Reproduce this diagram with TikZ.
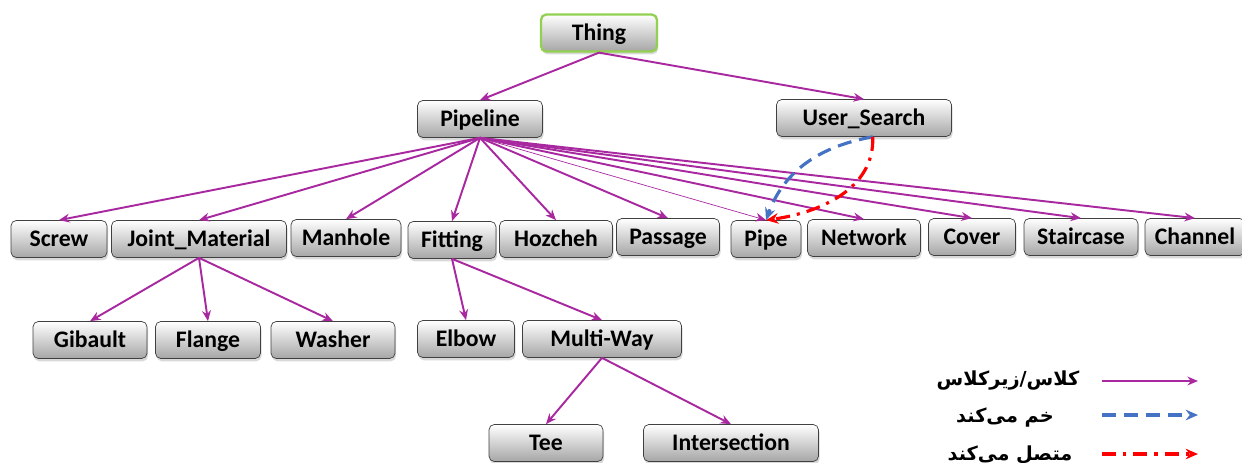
\documentclass[tikz,border=0pt]{standalone}
\usepackage{fontspec}
\setmainfont{Carlito}
\newfontfamily\farsi[Script=Arabic]{DejaVu Sans}
\TeXXeTstate=1
\usetikzlibrary{arrows.meta,shadows}
\definecolor{linkpurple}{RGB}{168,40,160}
\definecolor{bendblue}{RGB}{68,114,196}
\definecolor{jointred}{RGB}{255,0,0}
\definecolor{thinggreen}{RGB}{146,208,80}
\def\plink{\draw[link]}
\tikzset{
  box/.style={draw=black!75, rounded corners=3pt, top color=white, bottom color=black!35,
    minimum height=0.74cm, inner sep=1pt, text height=0.9em, text depth=0.1em,
    font=\bfseries\fontsize{13.5}{15}\selectfont,
    drop shadow={shadow xshift=0.6pt, shadow yshift=-1.6pt, opacity=0.3}},
  link/.style={linkpurple, line width=1.1pt, -{Stealth[length=6pt,width=5pt]}},
  bendlink/.style={bendblue, line width=1.8pt, dash pattern=on 8pt off 4.5pt, -{Stealth[length=7pt,width=6pt]}},
  joinlink/.style={jointred, line width=1.8pt, dash pattern=on 8pt off 4pt on 1.8pt off 4pt, -{Stealth[length=7pt,width=6pt]}},
  legtext/.style={font=\farsi\bfseries\fontsize{11}{13}\selectfont, inner sep=0pt}
}
\begin{document}
\begin{tikzpicture}[x=0.02cm, y=-0.02cm]
    \useasboundingbox (0,0) rectangle (1242,463);

    \node[box, minimum width=2.32cm, draw=thinggreen, line width=1.3pt] (thing) at (599,33) {Thing};
    \node[box, minimum width=2.5cm] (pipeline) at (480,119) {Pipeline};
    \node[box, minimum width=3.5cm] (usearch) at (864,118) {User\_Search};

    \node[box, minimum width=1.92cm] (screw)     at (59,239)   {Screw};
    \node[box, minimum width=3.5cm]  (joint)     at (199,239)  {Joint\_Material};
    \node[box, minimum width=2.2cm]  (manhole)   at (346,238)  {Manhole};
    \node[box, minimum width=1.76cm] (fitting)   at (452,240)  {Fitting};
    \node[box, minimum width=2.26cm] (hozcheh)   at (556,239)  {Hozcheh};
    \node[box, minimum width=2.06cm] (passage)   at (668,237)  {Passage};
    \node[box, minimum width=1.4cm]  (pipe)      at (766,239)  {Pipe};
    \node[box, minimum width=2.26cm] (network)   at (864,238)  {Network};
    \node[box, minimum width=1.74cm] (cover)     at (972,237)  {Cover};
    \node[box, minimum width=2.28cm] (staircase) at (1081,237) {Staircase};
    \node[box, minimum width=2.0cm]  (channel)   at (1195,237) {Channel};

    \node[box, minimum width=2.28cm] (gibault) at (90,340)  {Gibault};
    \node[box, minimum width=2.1cm]  (flange)  at (208,340) {Flange};
    \node[box, minimum width=2.48cm] (washer)  at (333,340) {Washer};
    \node[box, minimum width=1.94cm] (elbow)   at (466,339) {Elbow};
    \node[box, minimum width=3.18cm] (multi)   at (602,339) {Multi-Way};

    \node[box, minimum width=2.28cm] (tee)   at (546,443) {Tee};
    \node[box, minimum width=3.5cm]  (inter) at (731,443) {Intersection};

    \plink (thing.south) -- (pipeline.north);
    \plink (thing.south) -- (usearch.north);
    \foreach \n in {screw,joint,manhole,fitting,hozcheh,passage,network,cover,staircase,channel}
        \plink (pipeline.south) -- (\n.north);
    \draw[link, line width=0.4pt] (pipeline.south) -- (pipe.north);
    \foreach \n in {gibault,flange,washer}
        \plink (joint.south) -- (\n.north);
    \plink (fitting.south) -- (elbow.north);
    \plink (fitting.south) -- (multi.north);
    \plink (multi.south) -- (tee.north);
    \plink (multi.south) -- (inter.north);

    \draw[bendlink] (usearch.-65) to[out=190, in=70] (pipe.north);
    \draw[joinlink] (usearch.-65) to[out=-88, in=8] (pipe.north);

    \node[legtext] (lclass) at (1008,381) {\beginR کلاس/زیرکلاس\endR};
    \node[legtext] (lbend)  at (1005,418) {\beginR خم می‌کند\endR};
    \node[legtext] (ljoin)  at (1010,455) {\beginR متصل می‌کند\endR};
    \coordinate (c1s) at (1102,381);
    \coordinate (c1e) at (1198,381);
    \coordinate (c2s) at (1102,415);
    \coordinate (c2e) at (1198,415);
    \coordinate (c3s) at (1102,454);
    \coordinate (c3e) at (1198,454);
    \draw[link] (c1s) -- (c1e);
    \draw[bendlink] (c2s) -- (c2e);
    \draw[joinlink] (c3s) -- (c3e);
\end{tikzpicture}
\end{document}
